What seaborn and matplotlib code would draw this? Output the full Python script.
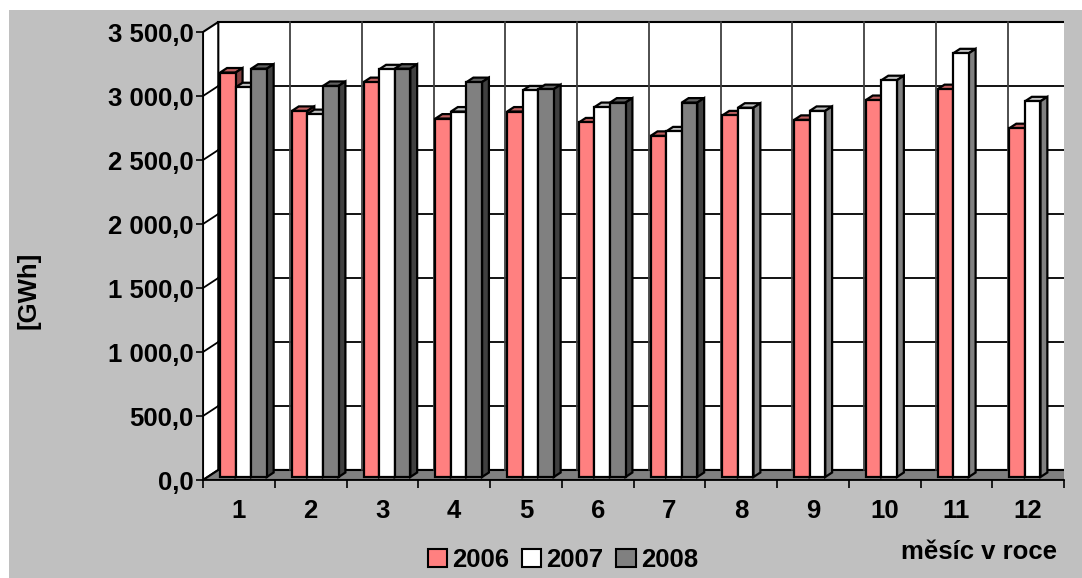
import numpy as np
import pandas as pd
import matplotlib
matplotlib.use("Agg")
import matplotlib.pyplot as plt
from matplotlib.patches import Polygon, Rectangle
from matplotlib.ticker import FuncFormatter
import seaborn as sns

# data
months = ["1", "2", "3", "4", "5", "6", "7", "8", "9", "10", "11", "12"]
years = ["2006", "2007", "2008"]
v2006 = [3160, 2860, 3085, 2800, 2855, 2770, 2665, 2825, 2790, 2945, 3030, 2725]
v2007 = [3045, 2835, 3185, 2855, 3020, 2890, 2700, 2885, 2860, 3100, 3310, 2935]
v2008 = [3190, 3055, 3190, 3085, 3030, 2925, 2925, np.nan, np.nan, np.nan, np.nan, np.nan]
yticks = [0, 500, 1000, 1500, 2000, 2500, 3000, 3500]
colors = {"2006": "#FF8080", "2007": "#FFFFFF", "2008": "#808080"}

df = pd.DataFrame({
    "month": months * 3,
    "year": np.repeat(years, len(months)),
    "gwh": v2006 + v2007 + v2008,
})

sns.set_style("white")
plt.rcParams["font.family"] = ["Liberation Sans", "DejaVu Sans"]
plt.rcParams["font.weight"] = "bold"
for k in ["text.color", "axes.labelcolor", "xtick.color", "ytick.color"]:
    plt.rcParams[k] = "black"

FS = 18.5

W, H = 1082, 578
fig = plt.figure(figsize=(W / 100, H / 100), dpi=100)
fig.patch.set_facecolor("white")
fig.add_artist(Rectangle((9 / W, 0), 1, (H - 10) / H, transform=fig.transFigure,
                         facecolor="#C0C0C0", edgecolor="none", zorder=-5))

# front plane: x axis at y=480px, 3500 at y=32px, categories 70.4px wide from x=203px
ppx = 845 / 12.0
ppy = 448 / 3500.0
ax = fig.add_axes([203 / W, (H - 480) / H, 861 / W, 460 / H])
ax.set_facecolor("none")
ax.set_xlim(-0.5, -0.5 + 861 / ppx)
ax.set_ylim(0, 460 / ppy)

# depth of the 3D box (15px right, 10px up)
DX = 15 / ppx
DY = 10 / ppy
ymax = yticks[-1]
n = len(months)

# walls and floor
ax.add_patch(Rectangle((-0.5 + DX, DY), n, ymax, facecolor="white", edgecolor="black", lw=1.5, zorder=0.5))
ax.add_patch(Polygon([(-0.5, 0), (-0.5 + DX, DY), (-0.5 + DX, ymax + DY), (-0.5, ymax)],
                     facecolor="white", edgecolor="black", lw=1.5, zorder=0.5))
ax.add_patch(Polygon([(-0.5, 0), (n - 0.5, 0), (n - 0.5 + DX, DY), (-0.5 + DX, DY)],
                     facecolor="#808080", edgecolor="black", lw=1.5, zorder=0.6))
for v in yticks[1:-1]:
    ax.plot([-0.5 + DX, n - 0.5 + DX], [v + DY, v + DY], color="black", lw=1.3, zorder=0.7)
    ax.plot([-0.5, -0.5 + DX], [v, v + DY], color="black", lw=1.3, zorder=0.7)
for b in np.arange(0.5, n - 0.5, 1.0):
    ax.plot([b + DX, b + DX], [DY, ymax + DY], color="#404040", lw=1.3, zorder=0.7)

sns.barplot(data=df, x="month", y="gwh", hue="year", order=months, hue_order=years,
            palette=colors, saturation=1, width=0.65, errorbar=None,
            edgecolor="black", linewidth=1.6, ax=ax)

# turn the flat bars into 3D columns (front face at 30% depth, 40% deep)
bars = [p for p in ax.patches if isinstance(p, Rectangle)
        and np.isfinite(p.get_height()) and p.get_height() > 0 and p.get_width() < 1]
bars = [p for p in bars if p.get_y() == 0]
bars.sort(key=lambda p: p.get_x())
f0, fd = 0.3, 0.45
for i, p in enumerate(bars):
    z = 3 + i * 0.01
    fc = np.array(p.get_facecolor()[:3])
    x0 = p.get_x() + f0 * DX
    w = p.get_width()
    h = p.get_height()
    y0 = f0 * DY
    p.set_x(x0)
    p.set_y(y0)
    p.set_zorder(z + 0.005)
    top = [(x0, y0 + h), (x0 + w, y0 + h), (x0 + w + fd * DX, y0 + h + fd * DY), (x0 + fd * DX, y0 + h + fd * DY)]
    side = [(x0 + w, y0), (x0 + w + fd * DX, y0 + fd * DY), (x0 + w + fd * DX, y0 + h + fd * DY), (x0 + w, y0 + h)]
    ax.add_patch(Polygon(top, facecolor=fc * 0.75, edgecolor="black", lw=1.6, zorder=z))
    ax.add_patch(Polygon(side, facecolor=fc * 0.5, edgecolor="black", lw=1.6, zorder=z))

# axes
for s in ["top", "right"]:
    ax.spines[s].set_visible(False)
ax.spines["left"].set_bounds(0, ymax)
ax.spines["bottom"].set_bounds(-0.5, n - 0.5)
for s in ["left", "bottom"]:
    ax.spines[s].set_color("black")
    ax.spines[s].set_linewidth(1.3)
    ax.spines[s].set_zorder(10)

ax.set_yticks(yticks)
ax.yaxis.set_major_formatter(FuncFormatter(lambda v, _: f"{v:,.1f}".replace(",", " ").replace(".", ",")))
ax.tick_params(axis="y", direction="out", length=5, width=1.2, color="black", pad=2,
               labelsize=FS, left=True)
ax.set_xticks(np.arange(-0.5, n, 1.0), labels=[""] * (n + 1))
ax.set_xticks(range(n), labels=months, minor=True)
ax.tick_params(axis="x", which="major", direction="out", length=6, width=1.2, color="black", bottom=True)
ax.tick_params(axis="x", which="minor", length=0, pad=14, labelsize=FS)
for lab in ax.get_xticklabels(minor=True) + ax.get_yticklabels():
    lab.set_fontweight("bold")

ax.set_ylabel("[GWh]", fontsize=FS, fontweight="bold")
ax.yaxis.set_label_coords(-0.189, 0.413)
ax.set_xlabel("měsíc v roce", fontsize=FS, fontweight="bold", ha="right", va="center")
ax.xaxis.set_label_coords(0.992, -0.157)

sns.move_legend(ax, "center", bbox_to_anchor=(0.418, -0.174), ncol=3, frameon=False, title=None,
                handlelength=0.75, handleheight=0.75, handletextpad=0.2, columnspacing=0.5,
                prop={"size": FS, "weight": "bold"})
for h in ax.get_legend().legend_handles:
    h.set_edgecolor("black")
    h.set_linewidth(1.5)

fig.savefig("out.png", dpi=100)
